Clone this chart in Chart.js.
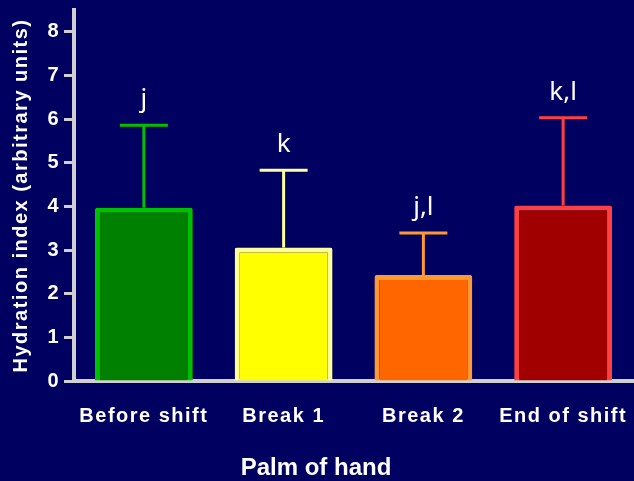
<!DOCTYPE html>
<html>
<head>
<meta charset="utf-8">
<script src="https://cdn.jsdelivr.net/npm/chart.js@4.4.1/dist/chart.umd.min.js"></script>
<style>
  html, body { margin: 0; padding: 0; background: #000060; }
  #wrap { width: 634px; height: 481px; }
</style>
</head>
<body>
<div id="wrap"><canvas id="chart" width="634" height="481"></canvas></div>
<script>
// Datos
const categories = ['Before shift', 'Break 1', 'Break 2', 'End of shift'];
const means = [3.97, 3.06, 2.43, 4.02];
const sd = [1.89, 1.77, 0.96, 2.01];
const letters = ['j', 'k', 'j,l', 'k,l'];
const yTicks = [0, 1, 2, 3, 4, 5, 6, 7, 8];

// Colores de relleno y borde de cada barra
const fills = ['#008000', '#ffff00', '#ff6600', '#a00000'];
const borders = ['#00c000', '#ffff99', '#ff9933', '#ff4040'];

const axisColor = '#d0d0d0';
const labelFont = { family: 'Liberation Sans', size: 20, weight: 'bold' };

// Espaciado entre letras para las etiquetas de los ejes
const spacingPlugin = {
  id: 'spacing',
  beforeUpdate(chart) { chart.ctx.letterSpacing = '1.5px'; },
  beforeDraw(chart) { chart.ctx.letterSpacing = '1.5px'; }
};

// Barras de error, letras de significancia y título del eje x
const extrasPlugin = {
  id: 'extras',
  afterDatasetsDraw(chart) {
    const ctx = chart.ctx;
    const x = chart.scales.x;
    const y = chart.scales.y;
    ctx.save();
    ctx.letterSpacing = '0px';
    means.forEach((m, i) => {
      const cx = x.getPixelForValue(i);
      const top = y.getPixelForValue(m);
      const hi = y.getPixelForValue(m + sd[i]);
      ctx.strokeStyle = borders[i];
      ctx.lineWidth = 3;
      ctx.beginPath();
      ctx.moveTo(cx, top);
      ctx.lineTo(cx, hi);
      ctx.moveTo(cx - 24, hi);
      ctx.lineTo(cx + 24, hi);
      ctx.stroke();
      ctx.fillStyle = '#ffffff';
      ctx.font = '26px "Noto Sans"';
      ctx.textAlign = 'center';
      ctx.textBaseline = 'alphabetic';
      ctx.fillText(letters[i], cx, hi - 18);
    });
    ctx.font = 'bold 24px "Liberation Sans"';
    ctx.fillText('Palm of hand', chart.width / 2 - 1, 475);
    ctx.restore();
  }
};

const chart = new Chart(document.getElementById('chart'), {
  type: 'bar',
  data: {
    labels: categories,
    datasets: [{
      data: means,
      backgroundColor: fills,
      borderColor: borders,
      borderWidth: 5,
      borderRadius: 2,
      barPercentage: 0.7,
      categoryPercentage: 1
    }]
  },
  options: {
    responsive: false,
    devicePixelRatio: 1,
    animation: false,
    layout: { autoPadding: false, padding: { top: 10, right: 1, left: 0, bottom: 0 } },
    plugins: {
      legend: { display: false },
      tooltip: { enabled: false }
    },
    scales: {
      x: {
        grid: { display: false, drawTicks: false },
        border: { color: axisColor, width: 4 },
        ticks: { color: '#ffffff', font: labelFont, padding: 23, maxRotation: 0, autoSkip: false },
        afterFit(s) {
          s.height = 100;
          s.paddingLeft = 0;
          s.paddingRight = 0;
        }
      },
      y: {
        min: 0,
        max: 8.5,
        afterBuildTicks(s) { s.ticks = yTicks.map(v => ({ value: v })); },
        grid: { drawOnChartArea: false, tickLength: 10, tickColor: axisColor, tickWidth: 3 },
        border: { color: axisColor, width: 4 },
        ticks: { color: '#ffffff', font: labelFont, padding: 4 },
        title: {
          display: true,
          text: 'Hydration index (arbitrary units)',
          color: '#ffffff',
          font: labelFont,
          padding: { top: 9, bottom: 0 }
        },
        afterFit(s) {
          s.width = 74;
          s.paddingTop = 0;
          s.paddingBottom = 0;
        }
      }
    }
  },
  plugins: [spacingPlugin, extrasPlugin]
});
</script>
</body>
</html>
